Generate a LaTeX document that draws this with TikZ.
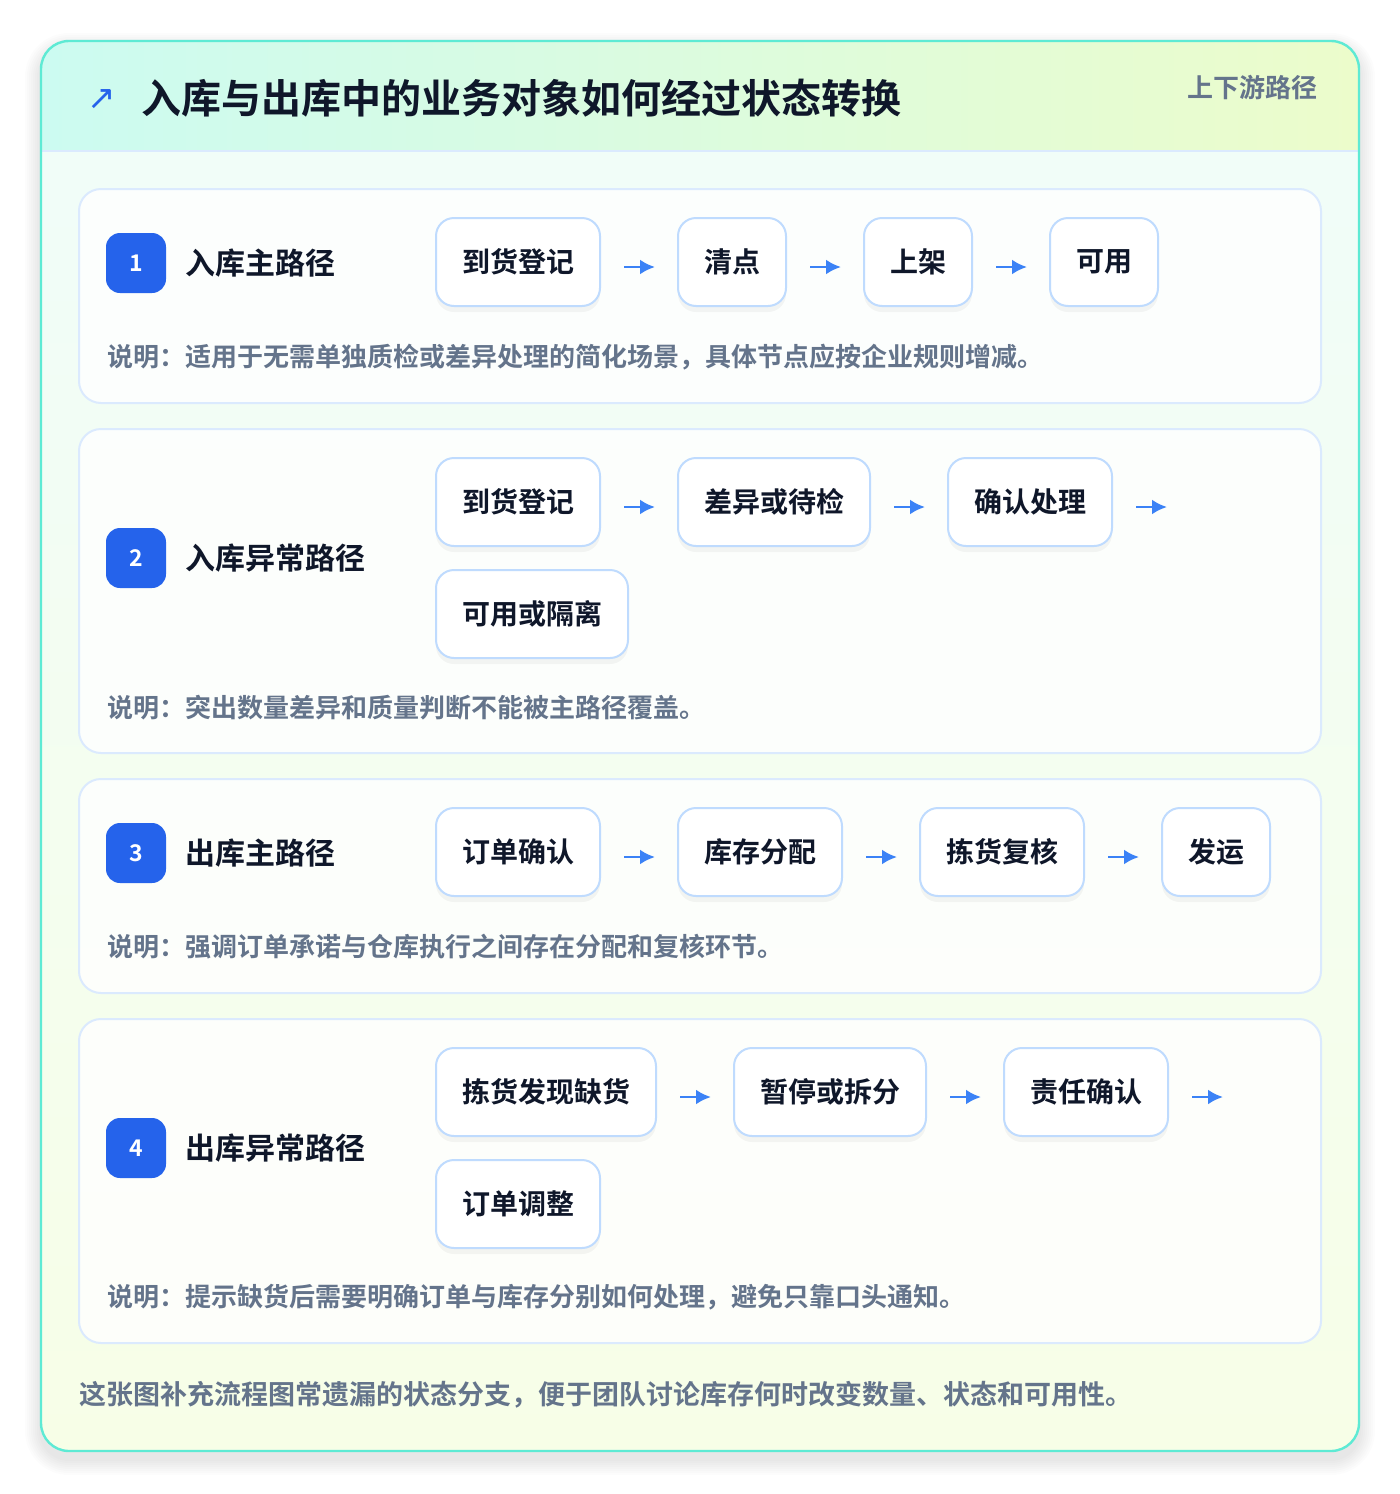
\documentclass[tikz,border=0pt]{standalone}
\usepackage{fontspec}
\setmainfont{Noto Sans CJK SC}[BoldFont={Noto Sans CJK SC Bold}]
\newfontfamily\symfont{DejaVu Sans}
\usepackage{tikz}
\usetikzlibrary{positioning, shadows, arrows.meta}
\tikzset{>={Latex[length=7.5pt, width=7.5pt]}}
\definecolor{ink}{HTML}{0F172A}
\definecolor{muted}{HTML}{64748B}
\definecolor{badgeblue}{HTML}{2563EB}
\definecolor{arrowblue}{HTML}{3B82F6}
\definecolor{boxline}{HTML}{BFDBFE}
\definecolor{cardline}{HTML}{DBEAFE}
\definecolor{tealline}{HTML}{5EEAD4}
\definecolor{mintA}{HTML}{CCFBF1}
\definecolor{limeA}{HTML}{ECFCCB}
\definecolor{mintB}{HTML}{F0FDFA}
\definecolor{limeB}{HTML}{F7FEE7}
\tikzset{
  stepbox/.style={draw=boxline, line width=1pt, fill=white, rounded corners=9pt, inner xsep=13pt, inner ysep=0pt,
    minimum height=44pt, font=\fontsize{14}{14}\selectfont\bfseries, text=ink,
    drop shadow={shadow xshift=0pt, shadow yshift=-3pt, fill=black, opacity=0.04}},
  badge/.style={fill=badgeblue, rounded corners=7pt, minimum size=30pt, inner sep=0pt, text=white, font=\fontsize{11.5}{11.5}\selectfont\bfseries},
  pathname/.style={font=\fontsize{15}{15}\selectfont\bfseries, text=ink, inner sep=0pt},
  note/.style={font=\fontsize{13}{13}\selectfont\bfseries, text=muted, inner sep=0pt, anchor=west},
  card/.style={draw=cardline, line width=1pt, fill=white, fill opacity=0.8, rounded corners=11pt},
  link/.style={->, arrowblue, line width=1.4pt, shorten <=11.5pt, shorten >=11pt},
}
\begin{document}
\begin{tikzpicture}[x=0.5pt, y=-0.5pt]
    \useasboundingbox (0, 0) rectangle (1400, 1494);
    \fill[white] (0, 0) rectangle (1400, 1494);
    % outer card with soft shadow
    \foreach \s in {1, ..., 8}
        \fill[black, opacity=0.012, rounded corners=14pt+\s pt] (41-2*\s, 49-2*\s) rectangle (1359+2*\s, 1459+2*\s);
    \begin{scope}
        \clip[rounded corners=14pt] (41, 41) rectangle (1359, 1451);
        \shade[top color=mintB, bottom color=limeB] (41, 41) rectangle (1359, 1451);
        \shade[left color=mintA, right color=limeA] (41, 41) rectangle (1359, 151);
    \end{scope}
    \draw[cardline, line width=1pt] (41, 151) -- (1359, 151);
    \draw[tealline, line width=1.2pt, rounded corners=14pt] (41, 41) rectangle (1359, 1451);
    \node[text=badgeblue, font=\symfont\fontsize{17}{17}\selectfont] (icon) at (102, 100) {↗};
    \node[anchor=west, inner sep=0pt, text=ink, font=\fontsize{20}{20}\selectfont\bfseries] (title) at (141, 98) {入库与出库中的业务对象如何经过状态转换};
    \node[note, anchor=east] (tag) at (1318, 88) {上下游路径};

    % 1 入库主路径
    \draw[card] (79, 189) rectangle (1321, 403);
    \node[badge] (n1) at (136, 263) {1};
    \node[pathname, right=9.5pt of n1] (p1) {入库主路径};
    \node[stepbox, anchor=west] (a1) at (435, 262) {到货登记};
    \node[stepbox, right=38pt of a1] (a2) {清点};
    \node[stepbox, right=38pt of a2] (a3) {上架};
    \node[stepbox, right=38pt of a3] (a4) {可用};
    \draw[link] ([yshift=-2.5pt]a1.east) -- ([yshift=-2.5pt]a2.west);
    \draw[link] ([yshift=-2.5pt]a2.east) -- ([yshift=-2.5pt]a3.west);
    \draw[link] ([yshift=-2.5pt]a3.east) -- ([yshift=-2.5pt]a4.west);
    \node[note] (d1) at (107, 357) {说明：适用于无需单独质检或差异处理的简化场景，具体节点应按企业规则增减。};

    % 2 入库异常路径
    \draw[card] (79, 429) rectangle (1321, 753);
    \node[badge] (n2) at (136, 558) {2};
    \node[pathname, right=9.5pt of n2] (p2) {入库异常路径};
    \node[stepbox, anchor=west] (b1) at (435, 502) {到货登记};
    \node[stepbox, right=38pt of b1] (b2) {差异或待检};
    \node[stepbox, right=38pt of b2] (b3) {确认处理};
    \coordinate[right=38pt of b3.east] (b3end);
    \node[stepbox, below right=11pt and 0pt of b1.south west] (b4) {可用或隔离};
    \draw[link] ([yshift=-2.5pt]b1.east) -- ([yshift=-2.5pt]b2.west);
    \draw[link] ([yshift=-2.5pt]b2.east) -- ([yshift=-2.5pt]b3.west);
    \draw[link] ([yshift=-2.5pt]b3.east) -- ([yshift=-2.5pt]b3end);
    \node[note] (d2) at (107, 708) {说明：突出数量差异和质量判断不能被主路径覆盖。};

    % 3 出库主路径
    \draw[card] (79, 779) rectangle (1321, 993);
    \node[badge] (n3) at (136, 853) {3};
    \node[pathname, right=9.5pt of n3] (p3) {出库主路径};
    \node[stepbox, anchor=west] (c1) at (435, 852) {订单确认};
    \node[stepbox, right=38pt of c1] (c2) {库存分配};
    \node[stepbox, right=38pt of c2] (c3) {拣货复核};
    \node[stepbox, right=38pt of c3] (c4) {发运};
    \draw[link] ([yshift=-2.5pt]c1.east) -- ([yshift=-2.5pt]c2.west);
    \draw[link] ([yshift=-2.5pt]c2.east) -- ([yshift=-2.5pt]c3.west);
    \draw[link] ([yshift=-2.5pt]c3.east) -- ([yshift=-2.5pt]c4.west);
    \node[note] (d3) at (107, 947) {说明：强调订单承诺与仓库执行之间存在分配和复核环节。};

    % 4 出库异常路径
    \draw[card] (79, 1019) rectangle (1321, 1343);
    \node[badge] (n4) at (136, 1148) {4};
    \node[pathname, right=9.5pt of n4] (p4) {出库异常路径};
    \node[stepbox, anchor=west] (e1) at (435, 1092) {拣货发现缺货};
    \node[stepbox, right=38pt of e1] (e2) {暂停或拆分};
    \node[stepbox, right=38pt of e2] (e3) {责任确认};
    \coordinate[right=38pt of e3.east] (e3end);
    \node[stepbox, below right=11pt and 0pt of e1.south west] (e4) {订单调整};
    \draw[link] ([yshift=-2.5pt]e1.east) -- ([yshift=-2.5pt]e2.west);
    \draw[link] ([yshift=-2.5pt]e2.east) -- ([yshift=-2.5pt]e3.west);
    \draw[link] ([yshift=-2.5pt]e3.east) -- ([yshift=-2.5pt]e3end);
    \node[note] (d4) at (107, 1297) {说明：提示缺货后需要明确订单与库存分别如何处理，避免只靠口头通知。};

    \node[note, font=\fontsize{13.5}{13.5}\selectfont\bfseries] (foot) at (79, 1395) {这张图补充流程图常遗漏的状态分支，便于团队讨论库存何时改变数量、状态和可用性。};
\end{tikzpicture}
\end{document}
